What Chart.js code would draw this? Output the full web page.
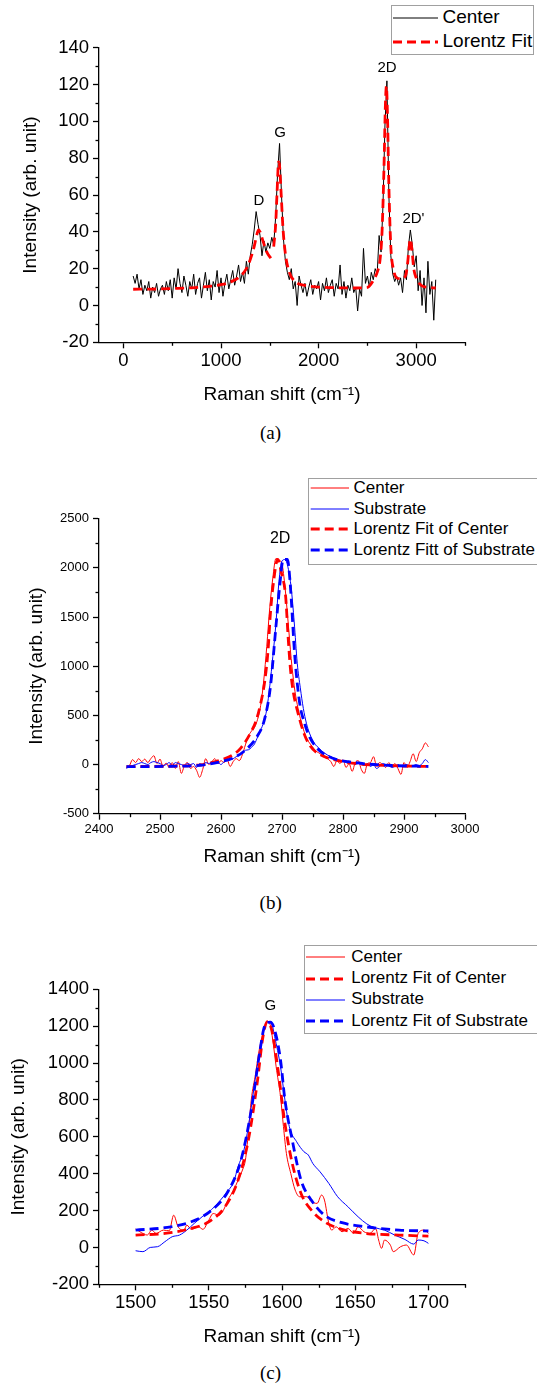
<!DOCTYPE html>
<html>
<head>
<meta charset="utf-8">
<script src="https://cdn.jsdelivr.net/npm/chart.js@4.4.1/dist/chart.umd.min.js"></script>
<style>
body{margin:0;background:#fff;width:537px;height:1386px;position:relative;overflow:hidden;font-family:Arial,"Liberation Sans",sans-serif}
canvas{position:absolute;left:0}
.legend{position:absolute;border:1.5px solid #a0a0a0;background:#fff;box-sizing:border-box;overflow:hidden}
.cap{position:absolute;font-family:"Times New Roman","Liberation Serif",serif;font-size:19px;transform:translate(-50%,-50%)}
</style>
</head>
<body>
<canvas id="chartA" width="537" height="420" style="top:0px"></canvas>
<canvas id="chartB" width="537" height="420" style="top:460px"></canvas>
<canvas id="chartC" width="537" height="420" style="top:940px"></canvas>
<div class="cap" style="left:270.5px;top:432.7px">(a)</div>
<div class="cap" style="left:270.7px;top:903.3px">(b)</div>
<div class="cap" style="left:270.5px;top:1373.3px">(c)</div>
<script>
const FONT = 'Arial, "Liberation Sans", sans-serif';

// ---- (a) full spectrum ----
const ramanA = [100,120,140,160,180,200,220,240,260,280,
  300,320,340,360,380,400,420,440,460,480,
  500,520,540,560,580,600,620,640,660,680,
  700,720,740,760,780,800,820,840,860,880,
  900,920,940,960,980,1000,1020,1040,1060,1080,
  1100,1120,1140,1160,1180,1200,1220,1240,1260,1280,
  1300,1320,1340,1360,1380,1400,1420,1440,1460,1480,
  1500,1520,1540,1560,1580,1600,1620,1640,1660,1680,
  1700,1720,1740,1760,1780,1800,1820,1840,1860,1880,
  1900,1920,1940,1960,1980,2000,2020,2040,2060,2080,
  2100,2120,2140,2160,2180,2200,2220,2240,2260,2280,
  2300,2320,2340,2360,2380,2400,2420,2440,2460,2480,
  2500,2520,2540,2560,2580,2600,2620,2640,2660,2680,
  2700,2720,2740,2760,2780,2800,2820,2840,2860,2880,
  2900,2920,2940,2960,2980,3000,3020,3040,3060,3080,
  3100,3120,3140,3160,3180,3200];
const centerA = [16,12,17,9,14,6,11,8,13,4,
  10,7,12,5,9,11,6,13,8,14,
  4,15,9,20,12,7,16,11,5,13,
  9,17,6,12,15,4,11,18,8,14,
  3,13,10,19,7,15,5,12,17,9,
  14,19,11,16,22,13,18,12,24,17,
  27,33,41,51,44,38,27,35,29,34,
  31,37,33,48,72,88,60,36,24,18,
  14,20,9,13,0,16,11,7,12,5,
  10,14,6,11,9,13,3,12,8,15,
  7,11,14,5,12,9,22,6,13,4,
  11,8,15,7,10,-3,9,5,31,12,
  16,10,18,14,20,17,38,29,55,98,
  122,60,27,17,13,16,11,15,7,19,
  14,32,41,33,21,27,8,19,0,15,
  -4,24,6,13,-8,14];
const fitXA = [100,300,500,700,900,1000,1100,1200,1260,1300,1340,1370,1385,1400,1430,1470,1510,1525,
  1540,1560,1575,1590,1600,1615,1635,1660,1700,1760,1850,2000,2200,2400,2500,2560,2600,2630,2650,2670,2685,
  2695,2705,2720,2740,2770,2800,2850,2890,2910,2925,2940,2955,2975,3000,3050,3100,3200];
const fitA = [8.8,8.9,9.2,9.6,10.5,11.3,12.8,16,20,25,32,39,41,40,35,29,25.6,null,
  32,44,62,78,76,62,42,28,18,13,11,10,9.6,9.5,9.8,13.5,18,25,40,75,110,
  119,105,65,32,19,15,14.5,16,22,30,36,31,20,15,11,10,9.5];
const peakNamesA = ['D','G','2D',"2D'"];
const peakXA = [1388,1606,2702,2972];
const peakYA = [57,94,129,47];
const xTicksA = [0,1000,2000,3000];
const yTicksA = [-20,0,20,40,60,80,100,120,140];

// ---- (b) 2D band ----
const ramanB = [2445,2450,2455,2460,2465,2470,2475,2480,2485,2490,
  2495,2500,2505,2510,2515,2520,2525,2530,2535,2540,
  2545,2550,2555,2560,2565,2570,2575,2580,2585,2590,
  2595,2600,2605,2610,2615,2620,2625,2630,2635,2640,
  2645,2650,2655,2660,2665,2670,2675,2680,2685,2690,
  2695,2700,2705,2710,2715,2720,2725,2730,2735,2740,
  2745,2750,2755,2760,2765,2770,2775,2780,2785,2790,
  2795,2800,2805,2810,2815,2820,2825,2830,2835,2840,
  2845,2850,2855,2860,2865,2870,2875,2880,2885,2890,
  2895,2900,2905,2910,2915,2920,2925,2930,2935,2940];
const centerB = [-30,-10,50,20,60,30,55,20,60,90,
  10,55,-20,15,-30,20,-40,30,-90,-10,
  20,-40,-20,-60,-130,-50,60,0,30,60,
  10,40,20,50,-20,30,60,40,100,200,
  290,340,380,460,600,850,1200,1600,1900,2095,
  2080,2040,1800,1450,1080,800,610,470,360,270,
  220,180,140,120,100,80,60,30,-20,40,
  10,50,-30,10,-70,20,40,-50,-90,10,
  20,80,-10,20,0,-30,20,-20,10,-40,
  -100,20,-30,30,110,30,120,160,220,180];
const substrateB = [-40,-20,-10,0,10,20,10,0,20,30,
  20,10,-10,0,20,-10,20,10,0,-10,
  10,0,10,-30,10,0,20,10,30,10,
  20,0,30,40,50,60,80,100,120,145,
  150,175,210,280,350,430,560,800,1100,1430,
  1860,2070,2085,2000,1800,1450,1030,780,570,420,
  320,250,200,170,140,115,95,80,65,55,
  45,35,20,10,20,0,10,0,-10,10,
  -20,0,-40,-20,10,0,-10,-30,-20,0,
  -20,-10,0,-20,-10,0,-10,10,50,20];
const fitCenterXB = [2445,2520,2570,2600,2619,2630,2640,2650,2657,2665,2672,2677,2681,2686,2693,2699,2706,2710,2714,2719,2725,2736,2745,2755,2770,2782,2800,2830,2870,2940];
const fitCenterB = [-22,-15,0,46,97,150,232,340,435,620,860,1150,1538,1850,2087,1950,1707,1300,961,720,554,317,200,130,80,53,30,5,-10,-20];
const fitSubXB = [2445,2520,2570,2600,2619,2640,2659,2671,2681,2690,2696,2702,2709,2713,2721,2729,2737,2745,2760,2772,2790,2809,2840,2880,2940];
const fitSubB = [-22,-18,-5,30,63,147,283,452,790,1400,1800,2085,2085,1876,1100,622,420,283,150,97,50,29,5,-10,-20];
const peakNamesB = ['2D'];
const peakXB = [2697];
const peakYB = [2293];
const xTicksB = [2400,2500,2600,2700,2800,2900,3000];
const yTicksB = [-500,0,500,1000,1500,2000,2500];

// ---- (c) G band ----
const centerXC = [1500,1503,1508,1511,1514,1519,1523,1526,1529,1533,1535,1538,1543,1546,1550,1553,1557,1560,1563,1567,
  1570,1573,1575,1577,1579,1582,1584,1587,1590,1592,1594,1596,1599,1601,1603,1606,1609,1612,1617,1620,
  1624,1627,1629,1632,1634,1637,1641,1645,1649,1652,1656,1660,1664,1666,1668,1670,1674,1676,1681,1685,
  1690,1693,1697,1700];
const centerC = [100,85,67,94,76,94,90,175,112,94,121,98,112,98,148,184,175,202,257,311,
  365,420,474,619,800,944,1052,1161,1224,1206,1107,980,817,655,510,401,311,275,275,248,
  239,284,257,130,94,112,85,103,76,112,85,76,103,40,-5,40,13,-23,4,13,
  -41,76,94,76];
const substrateXC = [1500,1505,1510,1515,1520,1525,1530,1535,1540,1546,1552,1558,1562,1567,1570,1574,1577,1580,1583,1586,
  1588,1591,1593,1595,1599,1602,1605,1610,1615,1618,1621,1626,1632,1638,1645,1652,1658,1663,1670,1677,
  1684,1690,1693,1697,1700];
const substrateC = [-18,-23,0,4,31,58,67,94,130,170,206,257,297,356,438,528,655,817,980,1107,
  1197,1219,1212,1143,980,800,655,573,519,501,456,410,347,275,221,166,127,108,94,67,
  43,18,40,36,22];
const fitCenterXC = [1500,1520,1538,1550,1561,1570,1577,1583,1587,1590,1593,1597,1602,1607,1613,1620,1629,1641,1657,1680,1700];
const fitCenterC = [67,76,103,139,220,365,582,889,1143,1224,1179,980,673,456,293,203,139,98,76,67,61];
const fitSubXC = [1500,1520,1538,1552,1563,1572,1579,1585,1588,1592,1595,1599,1602,1607,1613,1620,1629,1641,1657,1680,1700];
const fitSubC = [94,107,139,202,302,474,745,1070,1197,1222,1179,1016,800,582,365,257,175,134,112,94,89];
const peakNamesC = ['G'];
const peakXC = [1592];
const peakYC = [1309];
const xTicksC = [1500,1550,1600,1650,1700];
const yTicksC = [-200,0,200,400,600,800,1000,1200,1400];

const pts = (xs, ys) => xs.map((x, i) => ({x: x, y: ys[i]}));

// minor ticks, drawn between the major ones through the scales
const minorTicks = {
  id: 'minorTicks',
  afterDraw(chart, args, opts) {
    const ctx = chart.ctx;
    ctx.save();
    ctx.strokeStyle = '#000';
    ctx.lineWidth = 1.3;
    ['x', 'y'].forEach(k => {
      const s = chart.scales[k];
      const step = opts[k];
      const majors = s.ticks.map(t => t.value);
      for (let v = Math.ceil(s.min / step) * step; v <= s.max + 1e-9; v += step) {
        if (majors.some(m => Math.abs(m - v) < 1e-6)) continue;
        const p = Math.round(s.getPixelForValue(v)) + 0.5;
        ctx.beginPath();
        if (k === 'x') { ctx.moveTo(p, s.top); ctx.lineTo(p, s.top + 3.5); }
        else { ctx.moveTo(s.right, p); ctx.lineTo(s.right - 3.5, p); }
        ctx.stroke();
      }
    });
    ctx.restore();
  }
};

const peakLabels = {
  id: 'peakLabels',
  afterDatasetsDraw(chart, args, opts) {
    const {ctx, scales: {x, y}} = chart;
    ctx.save();
    ctx.fillStyle = '#000';
    ctx.font = opts.size + 'px ' + FONT;
    ctx.textAlign = 'center';
    ctx.textBaseline = 'middle';
    opts.names.forEach((n, i) => ctx.fillText(n, x.getPixelForValue(opts.x[i]), y.getPixelForValue(opts.y[i])));
    ctx.restore();
  }
};

function axis(o) {
  return {
    type: 'linear', min: o.min, max: o.max,
    border: {display: true, color: '#000', width: 1.3},
    grid: {drawOnChartArea: false, drawTicks: true, tickLength: 6, tickColor: '#000', tickWidth: 1.3},
    ticks: {color: '#000', font: {family: FONT, size: o.tickSize}, padding: o.tickPad,
      autoSkip: false, maxRotation: 0, callback: v => String(v)},
    title: {display: true, text: o.title, color: '#000', font: {family: FONT, size: 19}, padding: o.titlePad},
    afterBuildTicks: s => { s.ticks = o.ticks.map(v => ({value: v})); },
    afterFit: s => { if (o.width) s.width = o.width; if (o.height) s.height = o.height; }
  };
}

function line(label, data, color, width, dashed, order) {
  return {
    label: label, data: data, borderColor: color, backgroundColor: color, borderWidth: width,
    borderDash: dashed ? [9, 5] : [], pointRadius: 0, order: order, spanGaps: false,
    cubicInterpolationMode: 'monotone', fill: false
  };
}

function makeChart(id, datasets, cfg) {
  return new Chart(document.getElementById(id), {
    type: 'line',
    data: {datasets: datasets},
    options: {
      responsive: false, animation: false, events: [],
      layout: {padding: {top: cfg.top, right: 72, bottom: 0, left: 0}},
      scales: {
        x: axis(Object.assign({height: cfg.xHeight, title: 'Raman shift (cm\u207B\u00B9)', tickPad: 1.6,
          titlePad: {top: 0, bottom: cfg.xTitlePad}}, cfg.x)),
        y: axis(Object.assign({width: 99, title: 'Intensity (arb. unit)', tickPad: 4,
          titlePad: {top: cfg.yTitlePad, bottom: 0}}, cfg.y))
      },
      plugins: {
        legend: {display: false}, tooltip: {enabled: false},
        minorTicks: cfg.minor,
        peakLabels: cfg.peaks
      }
    },
    plugins: [minorTicks, peakLabels]
  });
}

function legendBox(chart, c) {
  const box = document.createElement('div');
  box.className = 'legend';
  Object.assign(box.style, {left: c.left + 'px', top: c.top + 'px', width: c.width + 'px', height: c.height + 'px'});
  const ns = 'http://www.w3.org/2000/svg';
  chart.data.datasets.forEach((ds, i) => {
    const yc = c.rows[i] - c.top - 1.5;
    const svg = document.createElementNS(ns, 'svg');
    svg.setAttribute('width', c.lineEnd - c.left);
    svg.setAttribute('height', 10);
    Object.assign(svg.style, {position: 'absolute', left: '-1.5px', top: (yc - 5) + 'px'});
    const ln = document.createElementNS(ns, 'line');
    ln.setAttribute('x1', c.lineStart - c.left);
    ln.setAttribute('x2', c.lineEnd - c.left);
    ln.setAttribute('y1', 5);
    ln.setAttribute('y2', 5);
    ln.setAttribute('stroke', ds.borderColor);
    ln.setAttribute('stroke-width', ds.borderWidth);
    if (ds.borderDash.length) ln.setAttribute('stroke-dasharray', ds.borderDash.join(' '));
    svg.appendChild(ln);
    box.appendChild(svg);
    const t = document.createElement('div');
    t.textContent = ds.label;
    Object.assign(t.style, {position: 'absolute', whiteSpace: 'nowrap', left: (c.textX - c.left - 1.5) + 'px',
      top: (yc - c.font * 0.6) + 'px', fontSize: c.font + 'px', lineHeight: (c.font * 1.2) + 'px', color: '#000'});
    box.appendChild(t);
  });
  document.body.appendChild(box);
}

const chartA = makeChart('chartA', [
  line('Center', pts(ramanA, centerA), '#000000', 1, false, 2),
  line('Lorentz Fit', pts(fitXA, fitA), '#ff0000', 2.8, true, 1)
], {
  top: 47.7, xHeight: 77.7, xTitlePad: 13.6, yTitlePad: 19.6,
  x: {min: -250, max: 3500, ticks: xTicksA, tickSize: 18.5},
  y: {min: -20, max: 140, ticks: yTicksA, tickSize: 18.5},
  minor: {x: 500, y: 10},
  peaks: {names: peakNamesA, x: peakXA, y: peakYA, size: 15}
});
chartA.data.datasets[0].cubicInterpolationMode = 'default';
chartA.update('none');

const chartB = makeChart('chartB', [
  line('Center', pts(ramanB, centerB), '#ff0000', 1, false, 3),
  line('Substrate', pts(ramanB, substrateB), '#0000ff', 1, false, 2),
  line('Lorentz Fit of Center', pts(fitCenterXB, fitCenterB), '#ff0000', 2.8, true, 1),
  line('Lorentz Fitt of Substrate', pts(fitSubXB, fitSubB), '#0000ff', 2.8, true, 0)
], {
  top: 58.7, xHeight: 66.3, xTitlePad: 11.9, yTitlePad: 25.6,
  x: {min: 2400, max: 3000, ticks: xTicksB, tickSize: 13},
  y: {min: -500, max: 2500, ticks: yTicksB, tickSize: 13},
  minor: {x: 50, y: 250},
  peaks: {names: peakNamesB, x: peakXB, y: peakYB, size: 16}
});

const chartC = makeChart('chartC', [
  line('Center', pts(centerXC, centerC), '#ff0000', 1, false, 3),
  line('Lorentz Fit of Center', pts(fitCenterXC, fitCenterC), '#ff0000', 2.8, true, 1),
  line('Substrate', pts(substrateXC, substrateC), '#0000ff', 1, false, 2),
  line('Lorentz Fit of Substrate', pts(fitSubXC, fitSubC), '#0000ff', 2.8, true, 0)
], {
  top: 49.3, xHeight: 75.7, xTitlePad: 11.9, yTitlePad: 7.4,
  x: {min: 1475, max: 1725, ticks: xTicksC, tickSize: 18.5},
  y: {min: -200, max: 1400, ticks: yTicksC, tickSize: 18.5},
  minor: {x: 25, y: 100},
  peaks: {names: peakNamesC, x: peakXC, y: peakYC, size: 15}
});

legendBox(chartA, {left: 391, top: 4.7, width: 143, height: 50.3, rows: [18.3, 42.3], lineStart: 393, lineEnd: 438, textX: 443, font: 19});
legendBox(chartB, {left: 308, top: 477.7, width: 240, height: 87.3, rows: [489, 509.3, 530, 551], lineStart: 310.7, lineEnd: 349.3, textX: 354, font: 17});
legendBox(chartC, {left: 304, top: 945, width: 240, height: 89.3, rows: [957.7, 979, 1000, 1021.7], lineStart: 306, lineEnd: 345, textX: 351.7, font: 17});
</script>
</body>
</html>
